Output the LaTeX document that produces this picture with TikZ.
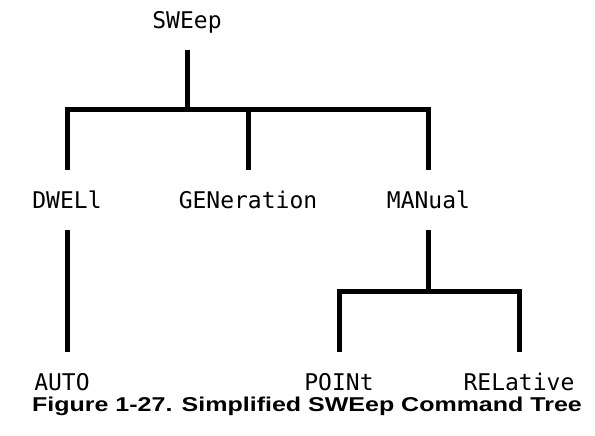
\documentclass[tikz,border=0pt]{standalone}
\usepackage{fontspec}
\usepackage{graphicx}
\usetikzlibrary{positioning, calc}
\newfontfamily\treefont{DejaVu Sans Mono}
\newfontfamily\capfont{Liberation Sans}
\definecolor{mInk}{HTML}{000000}

\begin{document}
\begin{tikzpicture}[x=1pt, y=-1pt,
    cmd/.style={font=\treefont\fontsize{23}{23}\selectfont, inner sep=0pt,
      text height=17pt, text depth=0pt, minimum height=60pt},
    branch/.style={mInk, line width=5pt}]
    \useasboundingbox (0,0) rectangle (595,436);
    % command nodes
    \node[cmd] (sweep) at (187,20) {SWEep};
    \node[cmd] (dwell) at (67,200) {DWELl};
    \node[cmd] (gen) at (248,200) {GENeration};
    \node[cmd] (manual) at (428.5,200) {MANual};
    \node[cmd] (auto) at (62,382) {AUTO};
    \node[cmd] (point) at (339,382) {POINt};
    \node[cmd] (relative) at (519,382) {RELative};
    \coordinate (forkA) at (187,110);
    \coordinate (forkB) at (428.5,291);
    % first level
    \draw[branch] (sweep.south) -- (forkA);
    \draw[branch] (dwell.north) |- (forkA) -| (manual.north);
    \draw[branch] (gen.north) -- (gen.north |- forkA);
    % second level
    \draw[branch] (dwell.south) -- (dwell.south |- auto.north);
    \draw[branch] (manual.south) -- (forkB);
    \draw[branch] (point.north) |- (forkB) -| (relative.north);
    \node (caption) at (307,406)
      {\scalebox{1.25}[1]{\capfont\bfseries\fontsize{20}{20}\selectfont Figure 1-27. Simplified SWEep Command Tree}};
  \end{tikzpicture}
\end{document}
